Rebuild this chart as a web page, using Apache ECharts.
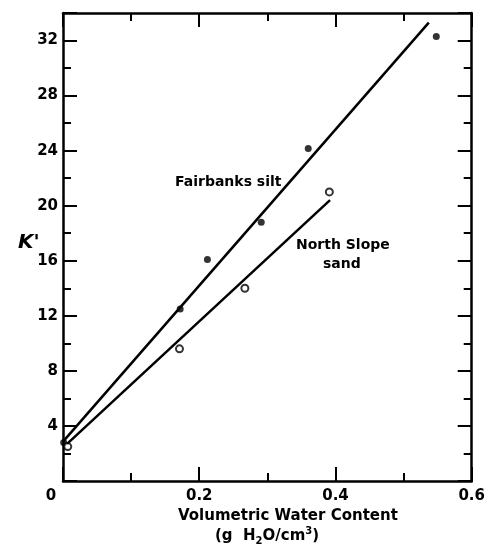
<!DOCTYPE html>
<html>
<head>
<meta charset="utf-8">
<script src="https://cdn.jsdelivr.net/npm/echarts@6/dist/echarts.min.js"></script>
<style>
  html, body { margin: 0; padding: 0; background: #fff; }
  #chart { width: 488px; height: 548px; }
</style>
</head>
<body>
<div id="chart"></div>
<script>
// measured points (filled dots = Fairbanks silt, open circles = North Slope sand)
const fairbanksX = [0.001, 0.172, 0.212, 0.291, 0.36, 0.548];
const fairbanksK = [2.8, 12.5, 16.1, 18.8, 24.15, 32.3];
const sandX = [0.007, 0.171, 0.267, 0.391];
const sandK = [2.5, 9.6, 14.0, 21.0];

// fitted lines, end points
const fairbanksFitX = [0, 0.537];
const fairbanksFitK = [2.86, 33.3];
const sandFitX = [0.006, 0.392];
const sandFitK = [2.7, 20.4];

const yLabels = [4, 8, 12, 16, 20, 24, 28, 32];

const FONT = '"DejaVu Sans", sans-serif';

function pairs(xs, ys) {
  return xs.map(function (x, i) { return [x, ys[i]]; });
}

window.addEventListener('load', function () {
  const chart = echarts.init(document.getElementById('chart'));

  const axisLine = { show: true, onZero: false, lineStyle: { color: '#000', width: 2.5 } };
  const tickStyle = { color: '#000', width: 2 };

  function xAxis(pos, showLabel) {
    return {
      type: 'value', position: pos, min: 0, max: 0.6, interval: 0.2,
      axisLine: axisLine,
      axisTick: { show: true, inside: true, length: 14, lineStyle: tickStyle },
      minorTick: { show: true, splitNumber: 2, length: 8, lineStyle: tickStyle },
      splitLine: { show: false },
      minorSplitLine: { show: false },
      axisLabel: {
        show: showLabel, margin: 8, color: '#000',
        fontFamily: FONT, fontWeight: 'bold', fontSize: 15,
        formatter: function (v) {
          return v === 0 ? '{z|0}' : v.toFixed(1);
        },
        rich: { z: { fontFamily: FONT, fontWeight: 'bold', fontSize: 15, padding: [0, 24, 0, 0] } }
      }
    };
  }

  function yAxis(pos, step, len, showLine, showLabel) {
    return {
      type: 'value', position: pos, min: 0, max: 34, interval: step,
      axisLine: showLine ? axisLine : { show: false, onZero: false },
      axisTick: { show: true, inside: true, length: len, lineStyle: tickStyle },
      splitLine: { show: false },
      axisLabel: {
        show: showLabel, margin: 5, color: '#000',
        fontFamily: FONT, fontWeight: 'bold', fontSize: 15,
        formatter: function (v) {
          return yLabels.indexOf(v) >= 0 ? String(v) : '';
        }
      }
    };
  }

  const option = {
    backgroundColor: '#fff',
    animation: false,
    grid: { left: 63, right: 12, top: 13, bottom: 67 },
    xAxis: [xAxis('bottom', true), xAxis('top', false)],
    yAxis: [
      yAxis('left', 2, 8, true, true),
      yAxis('left', 4, 14, false, false),
      yAxis('right', 2, 8, true, false),
      yAxis('right', 4, 14, false, false)
    ],
    graphic: [
      { type: 'text', left: 18, top: 233,
        style: { text: "K'", font: 'italic bold 20px ' + FONT, fill: '#000' } },
      { type: 'text', left: 175, top: 175,
        style: { text: 'Fairbanks silt', font: 'bold 14px ' + FONT, fill: '#000' } },
      { type: 'text', left: 296, top: 238,
        style: { text: 'North Slope', font: 'bold 14px ' + FONT, fill: '#000' } },
      { type: 'text', left: 323, top: 257,
        style: { text: 'sand', font: 'bold 14px ' + FONT, fill: '#000' } },
      { type: 'text', left: 178, top: 509,
        style: { text: 'Volumetric Water Content', font: 'bold 15px ' + FONT, fill: '#000' } },
      { type: 'text', left: 215, top: 526,
        style: {
          text: '{a|(g  H}{s|2}{a|O/cm}{p|3}{a|)}',
          rich: {
            a: { font: 'bold 15px ' + FONT, fill: '#000', lineHeight: 20 },
            s: { font: 'bold 10px ' + FONT, fill: '#000', lineHeight: 12, verticalAlign: 'bottom' },
            p: { font: 'bold 10px ' + FONT, fill: '#000', lineHeight: 12, verticalAlign: 'top' }
          }
        } }
    ],
    series: [
      {
        name: 'Fairbanks silt fit', type: 'line', xAxisIndex: 0, yAxisIndex: 0,
        data: pairs(fairbanksFitX, fairbanksFitK), showSymbol: false,
        lineStyle: { color: '#000', width: 2.5 }
      },
      {
        name: 'North Slope sand fit', type: 'line', xAxisIndex: 0, yAxisIndex: 0,
        data: pairs(sandFitX, sandFitK), showSymbol: false,
        lineStyle: { color: '#000', width: 2.5 }
      },
      {
        name: 'Fairbanks silt', type: 'scatter', xAxisIndex: 0, yAxisIndex: 0,
        data: pairs(fairbanksX, fairbanksK), symbol: 'circle', symbolSize: 7,
        itemStyle: { color: '#000' }
      },
      {
        name: 'North Slope sand', type: 'scatter', xAxisIndex: 0, yAxisIndex: 0,
        data: pairs(sandX, sandK), symbol: 'circle', symbolSize: 7,
        itemStyle: { color: '#fff', borderColor: '#000', borderWidth: 2 }
      }
    ]
  };

  chart.setOption(option);

  window.addEventListener('resize', function () {
    chart.resize();
  });
});
</script>
</body>
</html>
